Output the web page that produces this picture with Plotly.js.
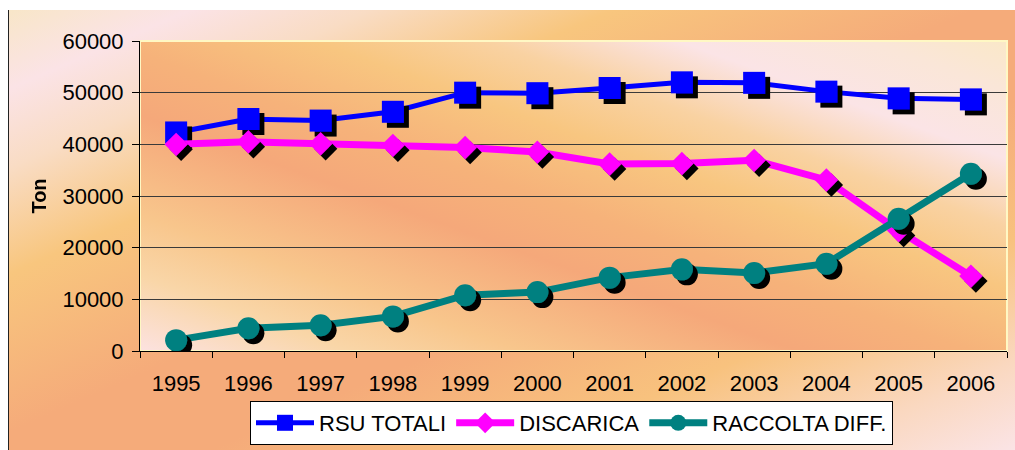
<!DOCTYPE html>
<html>
<head>
<meta charset="utf-8">
<script src="https://cdn.plot.ly/plotly-3.0.1.min.js"></script>
<style>
  html, body { margin: 0; padding: 0; background: #ffffff; width: 1015px; height: 450px; overflow: hidden; }
  #outer {
    position: absolute; left: 8px; top: 10px; width: 1007px; height: 440px;
    border-left: 1px solid #222;
    background: linear-gradient(to bottom right,
      #f8e6c8 0%, #fbe3e6 9%, #f9dcc4 18%, #f8c67e 30%, #f5ab7a 48%,
      #f5ab7a 60%, #f8c27e 76%, #fad8c0 90%, #fbe4e6 100%);
  }
  #plotbg {
    position: absolute; left: 140px; top: 41px; width: 867px; height: 310px;
    background: linear-gradient(to top right,
      #fce2e0 0%, #f9d6a8 12%, #f8c68c 22%, #f5a87a 38%, #f6b27a 48%,
      #f8c680 60%, #f9d2a2 70%, #fbe4e6 81%, #fae6d8 92%, #fae8c8 100%);
  }
  #chart { position: absolute; left: 0; top: 0; width: 1015px; height: 450px; }
  .scatterlayer .trace .points { filter: url(#shadow); }
</style>
</head>
<body>
<svg width="0" height="0" style="position:absolute">
  <defs>
    <filter id="shadow" x="-50%" y="-50%" width="200%" height="200%">
      <feDropShadow dx="5" dy="5" stdDeviation="0.6" flood-color="#000000" flood-opacity="1"/>
    </filter>
  </defs>
</svg>
<div id="outer"></div>
<div id="plotbg"></div>
<div id="chart"></div>
<script>
const years = ['1995', '1996', '1997', '1998', '1999', '2000', '2001', '2002', '2003', '2004', '2005', '2006'];
const rsuTotali = [42300, 44900, 44600, 46300, 50000, 49900, 50900, 52000, 51900, 50200, 48900, 48700];
const discarica = [40000, 40500, 40100, 39800, 39400, 38500, 36200, 36300, 36900, 33100, 23300, 14500];
const raccoltaDiff = [2100, 4400, 5000, 6700, 10800, 11400, 14200, 15800, 15100, 16900, 25600, 34300];
const seriesNames = ['RSU TOTALI', 'DISCARICA', 'RACCOLTA DIFF.'];
const yTickVals = [0, 10000, 20000, 30000, 40000, 50000, 60000];

const font = 'Arial, "Liberation Sans", sans-serif';

const traces = [
  {
    x: years, y: rsuTotali, name: seriesNames[0], type: 'scatter', mode: 'lines+markers',
    line: { color: '#0000ff', width: 5 },
    marker: { symbol: 'square', size: 22, color: '#0000ff' }
  },
  {
    x: years, y: discarica, name: seriesNames[1], type: 'scatter', mode: 'lines+markers',
    line: { color: '#ff00ff', width: 7 },
    marker: { symbol: 'diamond', size: 18, color: '#ff00ff' }
  },
  {
    x: years, y: raccoltaDiff, name: seriesNames[2], type: 'scatter', mode: 'lines+markers',
    line: { color: '#008080', width: 7 },
    marker: { symbol: 'circle', size: 22, color: '#008080' }
  }
];

const layout = {
  width: 1015, height: 450,
  margin: { l: 140, r: 8, t: 41, b: 99, pad: 0 },
  paper_bgcolor: 'rgba(0,0,0,0)',
  plot_bgcolor: 'rgba(0,0,0,0)',
  font: { family: font, size: 22, color: '#000000' },
  showlegend: true,
  xaxis: {
    type: 'category',
    range: [-0.5, 11.5],
    tickson: 'boundaries',
    ticks: 'outside', ticklen: 6, tickwidth: 1, tickcolor: '#000000',
    showline: true, linecolor: '#000000', linewidth: 1,
    showgrid: false, zeroline: false,
    tickfont: { family: font, size: 22, color: '#000000' },
    ticklabelstandoff: 13
  },
  yaxis: {
    range: [0, 60000],
    tickvals: yTickVals,
    tickformat: 'd',
    ticks: 'outside', ticklen: 7, tickwidth: 1, tickcolor: '#000000',
    showline: true, linecolor: '#000000', linewidth: 1,
    showgrid: true, gridcolor: '#3a3a3a', gridwidth: 1,
    zeroline: false,
    tickfont: { family: font, size: 22, color: '#000000' },
    ticklabelstandoff: 4,
    title: { text: 'Ton', font: { family: font, size: 20, color: '#000000', weight: 'bold' }, standoff: 10 }
  },
  shapes: [
    { type: 'rect', xref: 'paper', yref: 'paper', x0: 0, x1: 1, y0: 0, y1: 1,
      line: { color: '#fff8c4', width: 2 }, fillcolor: 'rgba(0,0,0,0)', layer: 'below' }
  ],
  legend: {
    orientation: 'h',
    xref: 'container', yref: 'container',
    x: 250 / 1015, xanchor: 'left',
    y: 1 - 401 / 450, yanchor: 'top',
    bgcolor: '#ffffff', bordercolor: '#000000', borderwidth: 1,
    font: { family: font, size: 22, color: '#000000' },
    itemwidth: 58,
    traceorder: 'normal'
  }
};

Plotly.newPlot('chart', traces, layout, { displayModeBar: false, staticPlot: true });
</script>
</body>
</html>
